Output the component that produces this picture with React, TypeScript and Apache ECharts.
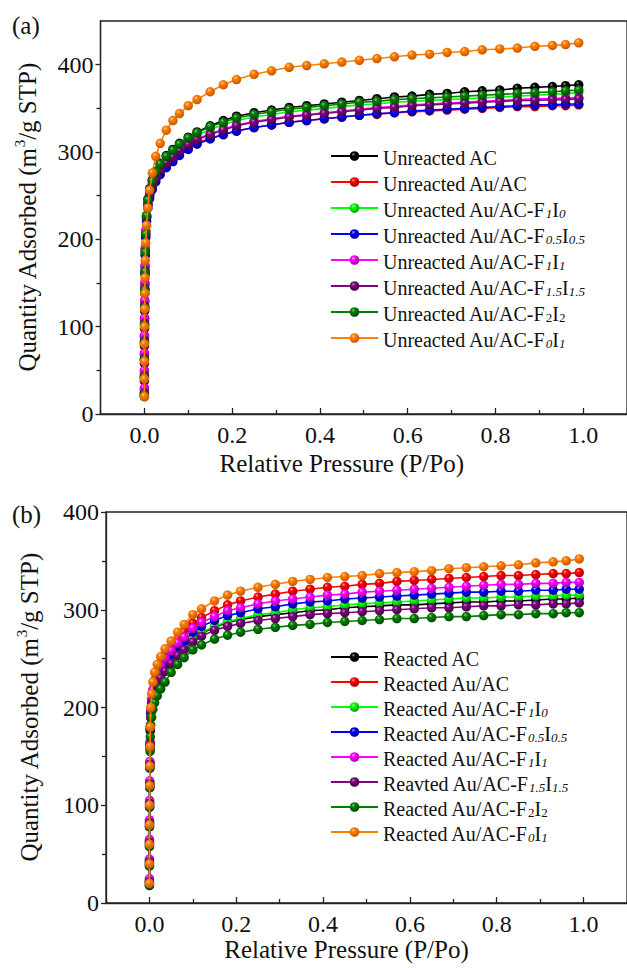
import React, { useEffect, useRef } from "react";
import * as echarts from "echarts";

const FONT = "'Liberation Serif', 'Times New Roman', serif";

// shared relative-pressure points (P/Po)
const X = [0.00002, 0.00005, 0.0001, 0.0002, 0.0004, 0.0007, 0.001, 0.0015, 0.002, 0.003,
  0.005, 0.008, 0.012, 0.018, 0.026, 0.036, 0.05, 0.065, 0.08, 0.1,
  0.12, 0.15, 0.18, 0.21, 0.25, 0.29, 0.33, 0.37, 0.41, 0.45,
  0.49, 0.53, 0.57, 0.61, 0.65, 0.69, 0.73, 0.77, 0.81, 0.85,
  0.89, 0.93, 0.96, 0.99];

const X_TICKS = [0, 0.2, 0.4, 0.6, 0.8, 1.0];
const X_MINOR = [-0.1, 0.1, 0.3, 0.5, 0.7, 0.9, 1.1];
const YA_TICKS = [0, 100, 200, 300, 400];
const YA_MINOR = [50, 150, 250, 350];
const YB_TICKS = [0, 100, 200, 300, 400];
const YB_MINOR = [50, 150, 250, 350];

const COLORS = ["#000000", "#ff0000", "#00ff00", "#0000ff", "#ff00ff", "#800080", "#008000", "#ff8000"];
const DARK = ["#000000", "#b00000", "#00a800", "#0000a0", "#b000b0", "#4a004a", "#004c00", "#c85a00"];
const LIGHT = ["#9a9a9a", "#ffb0b0", "#c0ffc0", "#b0b0ff", "#ffc0ff", "#c890c8", "#90d090", "#ffd0a0"];

// panel (a): unreacted
const NAMES_A = ["Unreacted AC", "Unreacted Au/AC", "Unreacted Au/AC-F1I0", "Unreacted Au/AC-F0.5I0.5",
  "Unreacted Au/AC-F1I1", "Unreacted Au/AC-F1.5I1.5", "Unreacted Au/AC-F2I2", "Unreacted Au/AC-F0I1"];
const LABELS_A = ["{n|Unreacted AC}", "{n|Unreacted Au/AC}",
  "{n|Unreacted Au/AC-F}{si|1}{n|I}{si|0}", "{n|Unreacted Au/AC-F}{si|0.5}{n|I}{si|0.5}",
  "{n|Unreacted Au/AC-F}{si|1}{n|I}{si|1}", "{n|Unreacted Au/AC-F}{si|1.5}{n|I}{si|1.5}",
  "{n|Unreacted Au/AC-F}{s|2}{n|I}{s|2}", "{n|Unreacted Au/AC-F}{si|0}{n|I}{si|1}"];

const A_AC = [20, 38, 58, 78, 98, 118, 138, 160, 182, 204, 226, 246, 258, 268, 278, 287, 296, 303, 310, 317, 323, 330, 336, 341, 345, 348, 351, 353, 355, 357, 359, 361, 363, 364, 366, 367, 369, 370, 371, 373, 374, 375, 376, 377];
const A_AU = [28, 48, 68, 88, 108, 128, 148, 168, 188, 208, 225, 239, 250, 260, 269, 277, 285, 292, 298, 305, 310, 316, 320, 324, 328, 331, 334, 336, 338, 340, 342, 343, 345, 346, 347, 348, 349, 350, 351, 352, 352, 353, 353, 354];
const A_F1I0 = [25, 45, 68, 90, 110, 130, 150, 170, 190, 210, 228, 243, 254, 264, 274, 283, 292, 299, 306, 313, 319, 326, 331, 336, 340, 343, 346, 348, 350, 352, 354, 355, 357, 358, 359, 360, 361, 362, 363, 364, 365, 366, 367, 368];
const A_F05 = [22, 42, 62, 82, 102, 122, 142, 162, 182, 202, 221, 236, 247, 257, 266, 274, 282, 289, 296, 303, 309, 315, 320, 324, 328, 331, 334, 336, 338, 340, 342, 344, 345, 347, 348, 349, 350, 351, 352, 353, 354, 354, 355, 355];
const A_F1I1 = [30, 50, 70, 90, 110, 130, 150, 170, 190, 210, 227, 241, 252, 262, 271, 280, 288, 295, 302, 309, 315, 321, 326, 331, 335, 338, 341, 343, 345, 347, 349, 351, 352, 354, 355, 356, 357, 358, 359, 360, 361, 361, 362, 362];
const A_F15 = [24, 44, 64, 84, 104, 124, 144, 164, 186, 206, 225, 240, 251, 261, 270, 279, 287, 294, 301, 308, 314, 320, 325, 330, 334, 337, 340, 342, 344, 346, 348, 350, 351, 353, 354, 355, 356, 357, 358, 359, 359, 360, 360, 361];
const A_F2 = [22, 42, 62, 82, 102, 122, 142, 163, 185, 206, 227, 245, 257, 267, 277, 286, 295, 302, 309, 316, 322, 329, 334, 339, 343, 346, 349, 351, 353, 355, 357, 358, 360, 361, 362, 363, 364, 365, 366, 367, 368, 369, 370, 371];
const A_F0I1 = [20, 40, 60, 80, 100, 120, 138, 156, 176, 196, 216, 236, 256, 276, 295, 310, 325, 336, 344, 353, 360, 369, 377, 383, 389, 393, 397, 399, 401, 403, 405, 407, 409, 411, 412, 414, 415, 417, 418, 419, 421, 422, 423, 425];
const SER_A = [A_AC, A_AU, A_F1I0, A_F05, A_F1I1, A_F15, A_F2, A_F0I1];

// panel (b): reacted
const NAMES_B = ["Reacted AC", "Reacted Au/AC", "Reacted Au/AC-F1I0", "Reacted Au/AC-F0.5I0.5",
  "Reacted Au/AC-F1I1", "Reavted Au/AC-F1.5I1.5", "Reacted Au/AC-F2I2", "Reacted Au/AC-F0I1"];
const LABELS_B = ["{n|Reacted AC}", "{n|Reacted Au/AC}",
  "{n|Reacted Au/AC-F}{si|1}{n|I}{si|0}", "{n|Reacted Au/AC-F}{si|0.5}{n|I}{si|0.5}",
  "{n|Reacted Au/AC-F}{si|1}{n|I}{si|1}", "{n|Reavted Au/AC-F}{si|1.5}{n|I}{si|1.5}",
  "{n|Reacted Au/AC-F}{s|2}{n|I}{s|2}", "{n|Reacted Au/AC-F}{si|0}{n|I}{si|1}"];

const B_AC = [18, 38, 58, 78, 98, 118, 138, 158, 176, 190, 200, 208, 216, 224, 232, 239, 247, 255, 261, 270, 276, 282, 287, 290, 293, 295, 297, 299, 300, 302, 303, 304, 305, 305, 306, 307, 308, 308, 309, 309, 310, 311, 311, 312];
const B_AU = [22, 42, 62, 82, 102, 122, 142, 162, 180, 196, 208, 218, 228, 237, 245, 253, 262, 270, 277, 286, 292, 299, 305, 309, 313, 316, 319, 321, 323, 324, 326, 327, 329, 330, 331, 332, 333, 334, 335, 335, 336, 337, 337, 338];
const B_F1I0 = [24, 44, 64, 84, 104, 124, 144, 164, 180, 193, 203, 211, 219, 227, 234, 241, 249, 257, 263, 271, 277, 283, 288, 291, 295, 297, 300, 302, 303, 305, 306, 307, 308, 309, 310, 311, 312, 312, 313, 313, 314, 314, 315, 315];
const B_F05 = [20, 40, 60, 80, 100, 120, 140, 160, 178, 195, 205, 214, 223, 231, 239, 246, 254, 262, 268, 277, 283, 289, 294, 297, 301, 303, 306, 308, 309, 311, 312, 313, 314, 315, 316, 317, 318, 318, 319, 319, 320, 320, 321, 321];
const B_F1I1 = [25, 45, 65, 85, 105, 125, 145, 165, 182, 198, 208, 218, 227, 235, 243, 250, 258, 266, 272, 281, 287, 293, 299, 302, 306, 309, 311, 313, 315, 316, 318, 319, 320, 321, 322, 323, 324, 325, 326, 326, 327, 327, 328, 328];
const B_F15 = [22, 42, 62, 82, 102, 122, 142, 162, 178, 190, 199, 207, 215, 223, 230, 237, 245, 253, 259, 267, 273, 279, 283, 286, 289, 291, 293, 295, 296, 297, 298, 299, 300, 301, 302, 302, 303, 304, 304, 305, 305, 306, 306, 307];
const B_F2 = [18, 38, 58, 78, 98, 118, 138, 155, 170, 182, 190, 198, 205, 212, 219, 226, 236, 244, 251, 259, 264, 270, 274, 277, 280, 282, 284, 285, 287, 288, 289, 290, 291, 291, 292, 293, 293, 294, 295, 295, 296, 296, 297, 297];
const B_F0I1 = [20, 40, 60, 80, 100, 120, 140, 160, 180, 200, 214, 226, 236, 244, 252, 260, 268, 277, 285, 295, 301, 309, 315, 319, 323, 326, 329, 331, 333, 334, 335, 337, 338, 339, 340, 342, 343, 344, 345, 346, 348, 349, 350, 352];
const SER_B = [B_AC, B_AU, B_F1I0, B_F05, B_F1I1, B_F15, B_F2, B_F0I1];

const TXT = "#111111";
const AX = "#222222";

function sphere(i: number) {
  return {
    type: "radial", x: 0.38, y: 0.32, r: 0.65,
    colorStops: [
      { offset: 0, color: LIGHT[i] },
      { offset: 0.3, color: COLORS[i] },
      { offset: 1, color: DARK[i] },
    ],
  };
}

function makeSeries(sets: number[][], names: string[], idx: number) {
  return sets.map((ys, i) => ({
    type: "line",
    name: names[i],
    xAxisIndex: idx * 2,
    yAxisIndex: idx * 2,
    data: X.map((x, j) => [x, ys[j]]),
    symbol: "circle",
    symbolSize: 9.5,
    showSymbol: true,
    lineStyle: { color: COLORS[i], width: 1.6 },
    itemStyle: { color: sphere(i) as any, borderWidth: 0 },
    z: 2 + i,
  }));
}

const legendRich = {
  n: { fontFamily: FONT, fontSize: 20, color: TXT, lineHeight: 24, verticalAlign: "bottom" },
  si: { fontFamily: FONT, fontSize: 13, fontStyle: "italic", color: TXT, lineHeight: 10, verticalAlign: "bottom" },
  s: { fontFamily: FONT, fontSize: 13, color: TXT, lineHeight: 10, verticalAlign: "bottom" },
};

function mainX(grid: number, gap: number, padRight: number) {
  return {
    gridIndex: grid, type: "value", min: -0.1, max: 1.1, position: "bottom",
    axisLine: { show: true, onZero: false, lineStyle: { color: AX, width: 1.3 } },
    axisTick: { show: true, inside: true, length: 6, customValues: X_TICKS, lineStyle: { color: AX, width: 1.3 } },
    axisLabel: { customValues: X_TICKS, formatter: (v: number) => v.toFixed(1), fontFamily: FONT, fontSize: 24, color: TXT, margin: 9 },
    splitLine: { show: false },
    name: "Relative Pressure (P/Po)", nameLocation: "middle", nameGap: gap,
    nameTextStyle: { fontFamily: FONT, fontSize: 25, color: TXT, padding: [0, padRight, 0, 0] },
  };
}
function minorX(grid: number) {
  return {
    gridIndex: grid, type: "value", min: -0.1, max: 1.1, position: "bottom",
    axisLine: { show: false, onZero: false },
    axisTick: { show: true, inside: true, length: 4, customValues: X_MINOR, lineStyle: { color: AX, width: 1.3 } },
    axisLabel: { show: false },
    splitLine: { show: false },
  };
}
function mainY(grid: number, max: number, ticks: number[], gap: number) {
  return {
    gridIndex: grid, type: "value", min: 0, max, position: "left",
    axisLine: { show: true, onZero: false, lineStyle: { color: AX, width: 1.3 } },
    axisTick: { show: true, inside: false, length: 5, customValues: ticks, lineStyle: { color: AX, width: 1.3 } },
    axisLabel: { customValues: ticks, fontFamily: FONT, fontSize: 24, color: TXT, margin: 7 },
    splitLine: { show: false },
    name: "{a|Quantity Adsorbed (m}{p|3}{a|/g STP)}",
    nameLocation: "middle", nameGap: gap, nameRotate: 90,
    nameTextStyle: {
      color: TXT,
      rich: {
        a: { fontFamily: FONT, fontSize: 25, color: TXT, lineHeight: 30 },
        p: { fontFamily: FONT, fontSize: 15, color: TXT, lineHeight: 16, verticalAlign: "top" },
      },
    },
  };
}
function minorY(grid: number, max: number, ticks: number[]) {
  return {
    gridIndex: grid, type: "value", min: 0, max, position: "left", offset: 0,
    axisLine: { show: false, onZero: false },
    axisTick: { show: true, inside: false, length: 4, customValues: ticks, lineStyle: { color: AX, width: 1.3 } },
    axisLabel: { show: false },
    splitLine: { show: false },
  };
}

export default function App() {
  const ref = useRef<HTMLDivElement>(null);
  useEffect(() => {
    if (!ref.current) return;
    const chart = echarts.init(ref.current, undefined, { renderer: "svg" });
    const labelMap: Record<string, string> = {};
    NAMES_A.forEach((n, i) => (labelMap[n] = LABELS_A[i]));
    NAMES_B.forEach((n, i) => (labelMap[n] = LABELS_B[i]));
    chart.setOption({
      animation: false,
      backgroundColor: "#ffffff",
      textStyle: { fontFamily: FONT },
      grid: [
        { left: 100.5, top: 21, width: 531.6, height: 393, show: true, borderColor: AX, borderWidth: 1.3, backgroundColor: "transparent" },
        { left: 106, top: 512, width: 528, height: 391, show: true, borderColor: AX, borderWidth: 1.3, backgroundColor: "transparent" },
      ],
      xAxis: [mainX(0, 37, 44), minorX(0), mainX(1, 33, 40), minorX(1)],
      yAxis: [mainY(0, 450, YA_TICKS, 58), minorY(0, 450, YA_MINOR), mainY(1, 400, YB_TICKS, 62), minorY(1, 400, YB_MINOR)],
      legend: [
        {
          data: NAMES_A, orient: "vertical", left: 325, top: 143, itemWidth: 47, itemHeight: 12, itemGap: 6,
          formatter: (n: string) => labelMap[n], textStyle: { color: TXT, fontFamily: FONT, rich: legendRich }, selectedMode: false,
        },
        {
          data: NAMES_B, orient: "vertical", left: 325, top: 644, itemWidth: 47, itemHeight: 12, itemGap: 5,
          formatter: (n: string) => labelMap[n], textStyle: { color: TXT, fontFamily: FONT, rich: legendRich }, selectedMode: false,
        },
      ],
      graphic: [
        { type: "text", left: 12, top: 13, style: { text: "(a)", fontFamily: FONT, fontSize: 25, fill: TXT } },
        { type: "text", left: 12, top: 502, style: { text: "(b)", fontFamily: FONT, fontSize: 25, fill: TXT } },
      ],
      series: [...makeSeries(SER_A, NAMES_A, 0), ...makeSeries(SER_B, NAMES_B, 1)],
    });
    return () => chart.dispose();
  }, []);
  return <div ref={ref} style={{ position: "fixed", left: 0, top: 0, width: 627, height: 968 }} />;
}
